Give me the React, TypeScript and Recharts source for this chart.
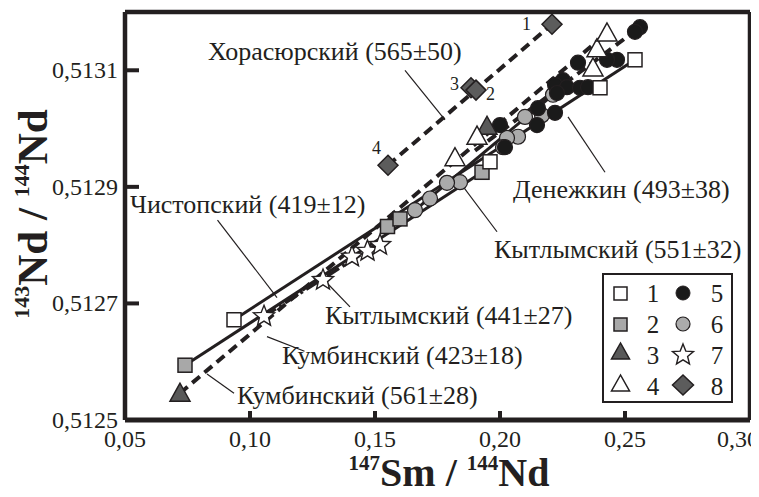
import React from 'react';
import { ScatterChart, Scatter, XAxis, YAxis, ReferenceLine } from 'recharts';

// ---------- data ----------
const xTicks = [0.05, 0.1, 0.15, 0.2, 0.25, 0.3];
const yTicks = [0.5125, 0.5127, 0.5129, 0.5131];

const s1OpenSquare = [
  { x: 0.0936, y: 0.512672 }, { x: 0.196, y: 0.512943 }, { x: 0.24, y: 0.51307 }, { x: 0.254, y: 0.513118 },
];
const s2GraySquare = [
  { x: 0.074, y: 0.512594 }, { x: 0.155, y: 0.512832 }, { x: 0.16, y: 0.512845 }, { x: 0.1928, y: 0.512925 },
];
const s3DarkTriangle = [
  { x: 0.072, y: 0.512546 }, { x: 0.1948, y: 0.513004 },
];
const s4OpenTriangle = [
  { x: 0.182, y: 0.51295 }, { x: 0.1908, y: 0.512987 }, { x: 0.2372, y: 0.513104 }, { x: 0.2388, y: 0.513137 }, { x: 0.2428, y: 0.513164 },
];
const s5BlackCircle = [
  { x: 0.256, y: 0.513174 }, { x: 0.254, y: 0.513166 }, { x: 0.2468, y: 0.513118 }, { x: 0.2428, y: 0.513118 },
  { x: 0.2312, y: 0.513113 }, { x: 0.2252, y: 0.513083 }, { x: 0.222, y: 0.513075 }, { x: 0.2268, y: 0.513071 },
  { x: 0.232, y: 0.51307 }, { x: 0.2352, y: 0.513071 }, { x: 0.2228, y: 0.513061 }, { x: 0.222, y: 0.513027 },
  { x: 0.2148, y: 0.513006 }, { x: 0.2152, y: 0.513035 }, { x: 0.2, y: 0.513006 }, { x: 0.202, y: 0.512968 },
];
const s6GrayCircle = [
  { x: 0.21, y: 0.51302 }, { x: 0.2168, y: 0.513023 }, { x: 0.2212, y: 0.513058 }, { x: 0.2072, y: 0.512986 },
  { x: 0.2028, y: 0.512984 }, { x: 0.2012, y: 0.512968 }, { x: 0.184, y: 0.512908 }, { x: 0.1788, y: 0.512907 },
  { x: 0.172, y: 0.51288 }, { x: 0.166, y: 0.51286 },
];
const s7Star = [
  { x: 0.1056, y: 0.512678 }, { x: 0.1292, y: 0.51274 }, { x: 0.1408, y: 0.51278 }, { x: 0.147, y: 0.51279 }, { x: 0.152, y: 0.5128 },
];
const s8Diamond = [
  { x: 0.1552, y: 0.512937 }, { x: 0.1884, y: 0.51307 }, { x: 0.1904, y: 0.513066 }, { x: 0.2208, y: 0.513179 },
];

// isochron segments: [x1, y1, x2, y2]
const lineKhorasyur = [0.1552, 0.512937, 0.2208, 0.513179];
const lineKumba561 = [0.072, 0.512546, 0.2428, 0.513164];
const lineChistop = [0.0936, 0.512672, 0.254, 0.513118];
const lineKumba423 = [0.074, 0.512594, 0.1928, 0.512925];
const lineKytlym441 = [0.1056, 0.512678, 0.152, 0.512805];
const lineKytlym551 = [0.166, 0.51286, 0.2212, 0.513058];
const lineDenezh = [0.19, 0.512962, 0.256, 0.513174];

// leader lines: [x1, y1, x2, y2]
const leaders = [
  [0.162, 0.51310, 0.178, 0.513015],
  [0.087, 0.512843, 0.1108, 0.51271],
  [0.1218, 0.512618, 0.1068, 0.512643],
  [0.0936, 0.512546, 0.0828, 0.512579],
  [0.14, 0.512694, 0.1308, 0.512735],
  [0.1988, 0.512823, 0.1848, 0.512903],
  [0.2272, 0.51302, 0.242, 0.512925],
];

// ---------- styling ----------
const INK = '#231f20';
const W = 751;
const H = 489;

const fmt = (v: number, d: number) => v.toFixed(d).replace('.', ',');

const squareShape = (fill: string) => (p: any) => (
  <rect x={p.cx - 7} y={p.cy - 7} width={14} height={14} fill={fill} stroke={INK} strokeWidth={1.5} />
);
const triShape = (fill: string) => (p: any) => (
  <polygon points={`${p.cx},${p.cy - 10} ${p.cx - 10},${p.cy + 8} ${p.cx + 10},${p.cy + 8}`} fill={fill} stroke={INK} strokeWidth={1.5} />
);
const circShape = (fill: string) => (p: any) => (
  <circle cx={p.cx} cy={p.cy} r={7.5} fill={fill} stroke={INK} strokeWidth={1.2} />
);
const starPts = (cx: number, cy: number, R: number, r: number) => {
  const pts: string[] = [];
  for (let i = 0; i < 10; i++) {
    const a = -Math.PI / 2 + (i * Math.PI) / 5;
    const rr = i % 2 === 0 ? R : r;
    pts.push(`${(cx + rr * Math.cos(a)).toFixed(1)},${(cy + rr * Math.sin(a)).toFixed(1)}`);
  }
  return pts.join(' ');
};
const starShape = (p: any) => (
  <polygon points={starPts(p.cx, p.cy, 11, 4.8)} fill="#fff" stroke={INK} strokeWidth={1.4} />
);
const diamondShape = (p: any) => (
  <polygon points={`${p.cx},${p.cy - 10} ${p.cx + 10},${p.cy} ${p.cx},${p.cy + 10} ${p.cx - 10},${p.cy}`} fill="#5c5c5c" stroke={INK} strokeWidth={1.5} />
);

const seg = (l: number[]) => [{ x: l[0], y: l[1] }, { x: l[2], y: l[3] }];

const XTick = (p: any) => {
  const last = p.payload.value >= 0.299;
  return (
    <text x={last ? p.x + 9 : p.x} y={p.y} textAnchor={last ? 'end' : 'middle'} dominantBaseline="hanging" fontFamily="Liberation Serif" fontSize={24} fill={INK}>
      {fmt(p.payload.value, 2)}
    </text>
  );
};
const YTick = (p: any) => (
  <text x={p.x} y={p.y} textAnchor="end" dominantBaseline="central" fontFamily="Liberation Serif" fontSize={24} fill={INK}>
    {fmt(p.payload.value, 4)}
  </text>
);

export default function App() {
  return (
    <div style={{ position: 'relative', width: W, height: H, fontFamily: 'Liberation Serif' }}>
      <ScatterChart width={W} height={H} margin={{ top: 4, right: 9, bottom: 0, left: 0 }}>
        <XAxis
          type="number"
          dataKey="x"
          domain={[0.05, 0.3]}
          ticks={xTicks}
          allowDataOverflow
          height={77}
          axisLine={{ stroke: INK, strokeWidth: 5 }}
          tickLine={{ stroke: INK, strokeWidth: 4 }}
          tickSize={-9}
          tickMargin={19}
          tick={<XTick />}
          interval={0}
        />
        <YAxis
          type="number"
          dataKey="y"
          domain={[0.5125, 0.5132]}
          ticks={yTicks}
          allowDataOverflow
          width={117}
          axisLine={{ stroke: INK, strokeWidth: 4.5 }}
          tickLine={{ stroke: INK, strokeWidth: 4 }}
          tickSize={-14}
          tickMargin={21}
          tick={<YTick />}
          interval={0}
        />
        <ReferenceLine y={0.5132} stroke={INK} strokeWidth={4.5} ifOverflow="visible" />
        <ReferenceLine x={0.3} stroke={INK} strokeWidth={4.5} ifOverflow="visible" />

        <ReferenceLine segment={seg(lineKhorasyur)} stroke={INK} strokeWidth={4} strokeDasharray="10 6" />
        <ReferenceLine segment={seg(lineKumba561)} stroke={INK} strokeWidth={4} strokeDasharray="10 6" />
        <ReferenceLine segment={seg(lineChistop)} stroke={INK} strokeWidth={3} />
        <ReferenceLine segment={seg(lineKumba423)} stroke={INK} strokeWidth={3} />
        <ReferenceLine segment={seg(lineKytlym441)} stroke={INK} strokeWidth={3.5} strokeDasharray="14 4 3 4" />
        <ReferenceLine segment={seg(lineKytlym551)} stroke={INK} strokeWidth={3} />
        <ReferenceLine segment={seg(lineDenezh)} stroke={INK} strokeWidth={4} strokeDasharray="10 6" />
        {leaders.map((l, i) => (
          <ReferenceLine key={i} segment={seg(l)} stroke={INK} strokeWidth={1.2} />
        ))}

        <Scatter data={s6GrayCircle} shape={circShape('#ababab')} isAnimationActive={false} />
        <Scatter data={s5BlackCircle} shape={circShape('#1a1a1a')} isAnimationActive={false} />
        <Scatter data={s2GraySquare} shape={squareShape('#a8a8a8')} isAnimationActive={false} />
        <Scatter data={s1OpenSquare} shape={squareShape('#ffffff')} isAnimationActive={false} />
        <Scatter data={s7Star} shape={starShape} isAnimationActive={false} />
        <Scatter data={s3DarkTriangle} shape={triShape('#595959')} isAnimationActive={false} />
        <Scatter data={s4OpenTriangle} shape={triShape('#ffffff')} isAnimationActive={false} />
        <Scatter data={s8Diamond} shape={diamondShape} isAnimationActive={false} />
      </ScatterChart>

      <svg width={W} height={H} style={{ position: 'absolute', left: 0, top: 0, pointerEvents: 'none' }}>
        <g fontFamily="Liberation Serif" fontSize={26} fill={INK}>
          <text x={200} y={52}>Хорасюрский (565±50)</text>
          <text x={122} y={205}>Чистопский (419±12)</text>
          <text x={505} y={190}>Денежкин (493±38)</text>
          <text x={486} y={250}>Кытлымский (551±32)</text>
          <text x={317} y={316}>Кытлымский (441±27)</text>
          <text x={274} y={356}>Кумбинский (423±18)</text>
          <text x={229} y={396}>Кумбинский (561±28)</text>
          <g fontSize={18}>
            <text x={514} y={22}>1</text>
            <text x={442} y={82}>3</text>
            <text x={478} y={92}>2</text>
            <text x={364} y={146}>4</text>
          </g>
        </g>
        <text x={441} y={478} textAnchor="middle" fontFamily="Liberation Serif" fontWeight="bold" fill={INK}>
          <tspan fontSize={21} dy={-16}>147</tspan>
          <tspan fontSize={40} dy={16}>Sm / </tspan>
          <tspan fontSize={21} dy={-16}>144</tspan>
          <tspan fontSize={40} dy={16}>Nd</tspan>
        </text>
        <text transform="translate(39,206) rotate(-90)" textAnchor="middle" fontFamily="Liberation Serif" fontWeight="bold" fill={INK}>
          <tspan fontSize={22} dy={-18}>143</tspan>
          <tspan fontSize={43} dy={18}>Nd / </tspan>
          <tspan fontSize={22} dy={-18}>144</tspan>
          <tspan fontSize={43} dy={18}>Nd</tspan>
        </text>
      </svg>

      <div style={{ position: 'absolute', left: 594, top: 265, width: 127, height: 126, border: `2px solid ${INK}`, background: '#fff' }}>
        <svg width={127} height={126}>
          <g>
            <rect x={10} y={12} width={13} height={13} fill="#fff" stroke={INK} strokeWidth={1.5} />
            <rect x={10} y={43} width={13} height={13} fill="#a8a8a8" stroke={INK} strokeWidth={1.5} />
            <polygon points="16.5,68 7.5,84 25.5,84" fill="#595959" stroke={INK} strokeWidth={1.5} />
            <polygon points="16.5,100 7.5,116 25.5,116" fill="#fff" stroke={INK} strokeWidth={1.5} />
            <circle cx={79} cy={18} r={7} fill="#1a1a1a" stroke={INK} />
            <circle cx={79} cy={49} r={7} fill="#ababab" stroke={INK} strokeWidth={1.2} />
            <polygon points={starPts(79, 80, 11, 4.8)} fill="#fff" stroke={INK} strokeWidth={1.4} />
            <polygon points="79,100 89.5,110 79,120 68.5,110" fill="#5c5c5c" stroke={INK} strokeWidth={1.5} />
          </g>
          <g fontFamily="Liberation Serif" fontSize={25} fill={INK} textAnchor="middle">
            <text x={49} y={27}>1</text>
            <text x={49} y={58}>2</text>
            <text x={49} y={89}>3</text>
            <text x={49} y={120}>4</text>
            <text x={113} y={27}>5</text>
            <text x={113} y={58}>6</text>
            <text x={113} y={89}>7</text>
            <text x={113} y={120}>8</text>
          </g>
        </svg>
      </div>
    </div>
  );
}
